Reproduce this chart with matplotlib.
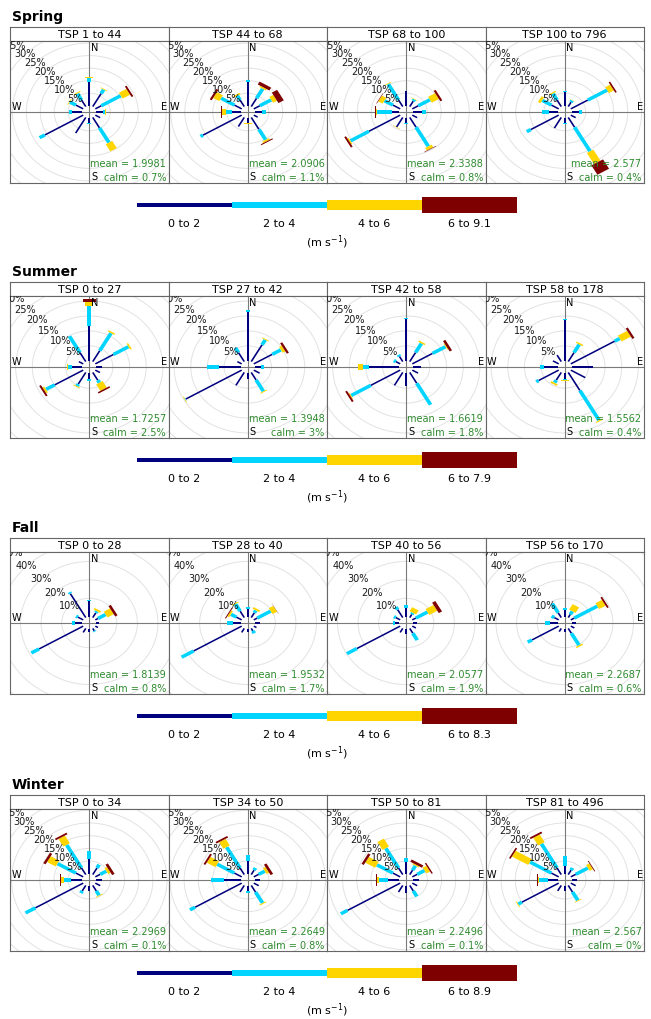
import numpy as np
import matplotlib.pyplot as plt
from matplotlib.patches import Circle, Polygon, Rectangle

W, H = 651, 1019
fig = plt.figure(figsize=(W / 100, H / 100), dpi=100)
plt.rcParams['font.family'] = 'DejaVu Sans'

# wind directions (deg from N), one row each in the arrays below
directions = np.arange(0, 360, 30)
speed_colors = ["#00007f", "#00d4ff", "#ffd500", "#7f0000"]
speed_labels = ["0 to 2", "2 to 4", "4 to 6"]

# cumulative frequency (%) at the end of each speed class (0-2, 2-4, 4-6, 6+)
spring_1 = np.array([[9.5, 11.0, 11.3, 11.3], [6.0, 7.8, 8.1, 8.1], [2.5, 10.5, 13.6, 14.3],
                     [2.5, 3.2, 3.5, 3.5], [2.0, 2.0, 2.0, 2.0], [4.8, 11.6, 14.9, 14.9],
                     [1.8, 2.1, 2.2, 2.2], [7.2, 7.2, 7.2, 7.2], [15.8, 18.0, 18.0, 18.0],
                     [3.8, 4.6, 4.6, 4.6], [3.0, 5.5, 5.8, 5.8], [3.0, 6.0, 6.4, 6.4]])
spring_2 = np.array([[9.3, 10.1, 10.1, 10.1], [3.8, 8.2, 8.8, 10.1], [2.5, 7.2, 8.8, 11.0],
                     [2.5, 3.9, 3.9, 3.9], [1.6, 1.6, 1.6, 1.6], [5.5, 10.3, 11.0, 11.4],
                     [1.8, 2.0, 2.1, 2.1], [4.2, 4.2, 4.2, 4.2], [16.0, 17.0, 17.0, 17.0],
                     [3.0, 5.3, 6.8, 7.1], [3.0, 8.5, 11.0, 11.8], [3.0, 5.0, 5.6, 5.6]])
spring_3 = np.array([[6.0, 6.0, 6.0, 6.0], [2.5, 3.3, 3.5, 3.5], [2.5, 7.3, 10.2, 11.0],
                     [3.0, 4.6, 4.6, 4.6], [2.0, 2.0, 2.0, 2.0], [4.5, 13.3, 14.5, 14.7],
                     [1.8, 2.4, 2.4, 2.4], [4.4, 4.4, 4.6, 4.6], [12.9, 20.5, 21.0, 21.7],
                     [2.5, 8.0, 8.4, 8.7], [3.0, 6.5, 8.3, 8.5], [3.0, 10.4, 10.7, 10.7]])
spring_4 = np.array([[5.5, 6.0, 6.0, 6.0], [2.0, 2.8, 2.9, 2.9], [7.0, 15.0, 17.0, 17.6],
                     [2.5, 3.5, 3.5, 3.5], [2.0, 2.0, 2.0, 2.0], [4.5, 15.6, 20.7, 25.0],
                     [1.8, 2.4, 2.4, 2.4], [4.9, 4.9, 4.9, 4.9], [11.5, 13.2, 13.2, 13.2],
                     [3.0, 5.5, 5.8, 5.8], [3.0, 6.8, 7.8, 7.8], [3.0, 6.0, 6.5, 6.5]])

summer_1 = np.array([[11.7, 18.5, 19.8, 20.7], [4.2, 11.0, 11.5, 11.5], [6.3, 11.5, 12.0, 12.0],
                     [1.6, 1.6, 1.6, 1.6], [1.6, 1.6, 1.6, 1.6], [3.0, 4.0, 6.5, 7.0],
                     [2.0, 2.6, 2.6, 2.6], [4.5, 5.3, 5.6, 5.6], [9.9, 12.9, 13.5, 14.1],
                     [3.0, 4.3, 4.7, 4.7], [1.5, 1.5, 1.5, 1.5], [3.5, 9.8, 9.8, 9.8]])
summer_2 = np.array([[16.2, 16.9, 17.1, 17.1], [6.5, 8.4, 8.7, 8.7], [6.4, 9.4, 10.3, 11.0],
                     [2.0, 2.8, 2.8, 2.8], [2.0, 2.0, 2.0, 2.0], [2.9, 7.3, 7.6, 7.6],
                     [1.8, 1.8, 1.8, 1.8], [5.0, 5.0, 5.0, 5.0], [19.4, 19.6, 19.8, 19.8],
                     [6.5, 10.0, 10.0, 10.0], [1.5, 1.5, 1.5, 1.5], [3.5, 5.3, 5.3, 5.3]])
summer_3 = np.array([[14.0, 14.4, 14.4, 14.4], [3.5, 7.0, 7.5, 7.5], [7.0, 11.5, 11.8, 12.6],
                     [2.4, 2.4, 2.4, 2.4], [2.0, 2.0, 2.0, 2.0], [4.2, 12.5, 12.5, 12.5],
                     [4.3, 4.3, 4.3, 4.3], [5.0, 5.0, 5.0, 5.0], [10.2, 17.0, 17.3, 17.9],
                     [9.0, 11.0, 12.5, 12.5], [1.5, 2.2, 2.2, 2.2], [2.0, 2.6, 2.6, 2.6]])
summer_4 = np.array([[13.5, 13.9, 13.9, 13.9], [3.5, 6.6, 7.1, 7.1], [15.2, 17.0, 20.2, 20.9],
                     [6.5, 6.5, 6.5, 6.5], [5.0, 5.0, 5.0, 5.0], [7.0, 18.5, 18.9, 18.9],
                     [2.0, 2.3, 2.6, 2.6], [3.0, 4.0, 4.6, 4.6], [7.0, 7.8, 7.8, 7.8],
                     [4.0, 5.3, 5.3, 5.3], [2.0, 2.0, 2.0, 2.0], [2.5, 2.5, 2.5, 2.5]])

fall_1 = np.array([[8.5, 9.3, 9.3, 9.3], [3.0, 4.0, 5.0, 5.0], [1.5, 5.8, 9.3, 10.6],
                   [1.5, 1.5, 1.5, 1.5], [1.5, 1.5, 1.5, 1.5], [1.5, 2.0, 2.0, 2.0],
                   [1.5, 1.5, 1.5, 1.5], [2.5, 2.5, 2.5, 2.5], [24.7, 29.1, 29.1, 29.1],
                   [3.5, 5.2, 5.2, 5.2], [3.0, 4.0, 4.0, 4.0], [15.0, 15.9, 15.9, 15.9]])
fall_2 = np.array([[4.0, 5.1, 5.1, 5.1], [3.0, 4.5, 5.5, 5.5], [2.0, 9.5, 12.0, 12.1],
                   [2.5, 2.5, 2.5, 2.5], [1.5, 1.5, 1.5, 1.5], [1.5, 3.0, 3.0, 3.0],
                   [1.5, 1.5, 1.5, 1.5], [2.5, 2.5, 2.5, 2.5], [27.0, 33.7, 33.7, 33.7],
                   [4.0, 6.5, 6.5, 6.5], [3.0, 6.0, 7.0, 7.5], [4.0, 8.5, 9.0, 9.0]])
fall_3 = np.array([[5.0, 6.6, 6.6, 6.6], [2.0, 3.0, 5.5, 5.5], [2.0, 8.5, 13.0, 14.8],
                   [2.0, 2.0, 2.0, 2.0], [2.0, 2.0, 2.0, 2.0], [3.0, 7.3, 7.3, 7.3],
                   [2.5, 2.5, 2.5, 2.5], [2.5, 2.5, 2.5, 2.5], [24.3, 29.9, 29.9, 29.9],
                   [2.0, 3.1, 3.1, 3.1], [2.5, 3.5, 3.5, 3.5], [5.0, 6.6, 6.6, 6.6]])
fall_4 = np.array([[3.5, 4.8, 4.8, 4.8], [2.0, 4.0, 7.4, 7.4], [2.0, 14.9, 18.5, 19.4],
                   [2.0, 2.0, 2.0, 2.0], [2.0, 2.0, 2.0, 2.0], [3.0, 10.5, 11.3, 11.3],
                   [1.5, 1.5, 1.5, 1.5], [2.0, 2.0, 2.0, 2.0], [15.0, 17.4, 17.4, 17.4],
                   [4.0, 6.2, 6.2, 6.2], [2.5, 4.0, 4.0, 4.0], [3.0, 8.8, 8.8, 8.8]])

winter_1 = np.array([[6.0, 8.9, 9.1, 9.1], [3.0, 4.5, 4.5, 4.5], [2.0, 4.5, 5.5, 6.5],
                     [2.0, 2.0, 2.0, 2.0], [2.0, 2.0, 2.0, 2.0], [2.5, 4.5, 4.8, 4.8],
                     [2.0, 2.0, 2.0, 2.0], [2.5, 3.5, 3.5, 3.5], [19.5, 23.5, 23.5, 23.5],
                     [4.0, 6.5, 7.5, 7.9], [3.0, 10.5, 14.0, 14.9], [3.0, 13.5, 17.0, 17.7]])
winter_2 = np.array([[5.0, 7.4, 7.4, 7.4], [2.0, 3.0, 3.0, 3.0], [2.0, 4.5, 5.5, 6.5],
                     [2.0, 2.0, 2.0, 2.0], [2.0, 2.0, 2.0, 2.0], [3.0, 8.0, 8.4, 8.4],
                     [2.0, 2.5, 2.5, 2.5], [3.0, 3.0, 3.0, 3.0], [19.0, 21.1, 21.1, 21.1],
                     [6.0, 10.6, 10.6, 10.6], [3.0, 10.0, 13.5, 14.2], [3.0, 12.5, 15.5, 16.2]])
winter_3 = np.array([[4.5, 6.3, 6.3, 6.3], [2.0, 4.0, 4.5, 5.5], [2.0, 5.0, 6.5, 7.0],
                     [2.0, 2.0, 2.0, 2.0], [2.0, 2.0, 2.0, 2.0], [2.5, 5.0, 5.0, 5.0],
                     [2.5, 2.5, 2.5, 2.5], [3.0, 3.0, 3.0, 3.0], [21.5, 24.2, 24.2, 24.2],
                     [4.0, 7.0, 7.8, 8.2], [3.0, 9.5, 13.5, 14.4], [3.0, 12.0, 15.6, 15.6]])
winter_4 = np.array([[3.0, 6.9, 6.9, 6.9], [2.0, 3.0, 3.0, 3.0], [2.0, 7.0, 8.3, 8.6],
                     [2.0, 2.0, 2.0, 2.0], [2.0, 2.0, 2.0, 2.0], [3.0, 6.8, 7.1, 7.1],
                     [2.0, 2.0, 2.0, 2.0], [2.5, 2.5, 2.5, 2.5], [15.0, 16.5, 16.8, 16.8],
                     [3.5, 6.5, 7.1, 7.5], [3.0, 11.7, 18.3, 18.9], [3.0, 14.0, 17.5, 18.2]])

season_names = ["Spring", "Summer", "Fall", "Winter"]
panel_titles = [["TSP 1 to 44", "TSP 44 to 68", "TSP 68 to 100", "TSP 100 to 796"],
                ["TSP 0 to 27", "TSP 27 to 42", "TSP 42 to 58", "TSP 58 to 178"],
                ["TSP 0 to 28", "TSP 28 to 40", "TSP 40 to 56", "TSP 56 to 170"],
                ["TSP 0 to 34", "TSP 34 to 50", "TSP 50 to 81", "TSP 81 to 496"]]
season_data = [[spring_1, spring_2, spring_3, spring_4],
               [summer_1, summer_2, summer_3, summer_4],
               [fall_1, fall_2, fall_3, fall_4],
               [winter_1, winter_2, winter_3, winter_4]]
mean_ws = [["1.9981", "2.0906", "2.3388", "2.577"],
           ["1.7257", "1.3948", "1.6619", "1.5562"],
           ["1.8139", "1.9532", "2.0577", "2.2687"],
           ["2.2969", "2.2649", "2.2496", "2.567"]]
calm_pct = [["0.7%", "1.1%", "0.8%", "0.4%"],
            ["2.5%", "3%", "1.8%", "0.4%"],
            ["0.8%", "1.7%", "1.9%", "0.6%"],
            ["0.1%", "0.8%", "0.1%", "0%"]]
top_class = ["6 to 9.1", "6 to 7.9", "6 to 8.3", "6 to 8.9"]
max_freq = [25.0, 21.0, 34.0, 24.7]
ring_step = [5, 5, 10, 5]

# layout (pixels)
row_top = [27, 282, 538, 795]
panel_x0, panel_w = 10, 158.5
strip_h, plot_h = 14, 142
frame_col = "#666666"


def px_axes(x0, y0, w, h):
    return fig.add_axes([x0 / W, 1 - (y0 + h) / H, w / W, h / H])


# paddle half widths, as in openair
box_w = np.linspace(0.002 ** 0.25, 0.016 ** 0.25, 4) ** 4 * 6


def draw_rose(ax, cum, M, step, mean, calm):
    off = 0.1 * M
    lim = 1.03 * (M + off)
    ax.set_xlim(-lim, lim)
    ax.set_ylim(-lim, lim)
    ax.set_xticks([])
    ax.set_yticks([])
    for s in ax.spines.values():
        s.set_color(frame_col)
        s.set_linewidth(0.8)
    for p in np.arange(step, 2 * M + step, step):
        ax.add_patch(Circle((0, 0), p + off, fill=False, ec="#e2e2e2", lw=0.7, zorder=1))
        r = (p + off) * np.sqrt(0.5)
        # the outer ring labels are cut by the panel edge, as in the original
        ax.text(-r, r, f"{p:g}%", ha="center", va="center", fontsize=7,
                color="#1a1a1a", clip_on=True, zorder=5)
    ax.axhline(0, color="#7a7a7a", lw=0.8, zorder=2)
    ax.axvline(0, color="#7a7a7a", lw=0.8, zorder=2)
    for k, wd in enumerate(directions):
        t = np.radians(wd)
        u = np.array([np.sin(t), np.cos(t)])
        v = np.array([np.cos(t), -np.sin(t)])
        prev = 0.0
        for i in range(4):
            if cum[k, i] > prev:
                w = box_w[i] * M
                a, b = prev + off, cum[k, i] + off
                pts = [a * u - w * v, a * u + w * v, b * u + w * v, b * u - w * v]
                ax.add_patch(Polygon(pts, closed=True, fc=speed_colors[i], ec="none", zorder=3))
            prev = cum[k, i]
    ax.text(0.511, 0.985, "N", transform=ax.transAxes, ha="left", va="top", fontsize=7)
    ax.text(0.511, 0.008, "S", transform=ax.transAxes, ha="left", va="bottom", fontsize=7)
    ax.text(0.008, 0.497, "W", transform=ax.transAxes, ha="left", va="bottom", fontsize=7)
    ax.text(0.992, 0.497, "E", transform=ax.transAxes, ha="right", va="bottom", fontsize=7)
    ax.text(0.985, 0.136, f"mean = {mean}", transform=ax.transAxes, ha="right",
            va="center", fontsize=7, color="#2e8b2e", zorder=6)
    ax.text(0.985, 0.035, f"calm = {calm}", transform=ax.transAxes, ha="right",
            va="center", fontsize=7, color="#2e8b2e", zorder=6)


for s, name in enumerate(season_names):
    top = row_top[s]
    fig.text(12 / W, 1 - (top - 10) / H, name, fontsize=10, fontweight="bold",
             ha="left", va="center")
    for j in range(4):
        x0 = panel_x0 + j * panel_w
        sax = px_axes(x0, top, panel_w, strip_h)
        sax.set_xticks([])
        sax.set_yticks([])
        for sp in sax.spines.values():
            sp.set_color(frame_col)
            sp.set_linewidth(0.8)
        sax.text(0.5, 0.45, panel_titles[s][j], ha="center", va="center", fontsize=8,
                 transform=sax.transAxes)
        ax = px_axes(x0, top + strip_h, panel_w, plot_h)
        draw_rose(ax, season_data[s][j], max_freq[s], ring_step[s], mean_ws[s][j], calm_pct[s][j])

    # speed key
    kax = px_axes(137, top + 168, 380, 20)
    kax.set_xlim(0, 4)
    kax.set_ylim(-10, 10)
    kax.axis("off")
    heights = [3.3, 6.7, 10.7, 15.3]
    labels = speed_labels + [top_class[s]]
    for i in range(4):
        kax.add_patch(Rectangle((i, -heights[i] / 2), 1, heights[i], fc=speed_colors[i], ec="none"))
        fig.text((137 + 95 * i + 47.5) / W, 1 - (top + 197) / H, labels[i],
                 ha="center", va="center", fontsize=8)
    fig.text(327 / W, 1 - (top + 215) / H, r"(m s$^{-1}$)", ha="center", va="center", fontsize=8)

fig.savefig("out.png", dpi=100)
